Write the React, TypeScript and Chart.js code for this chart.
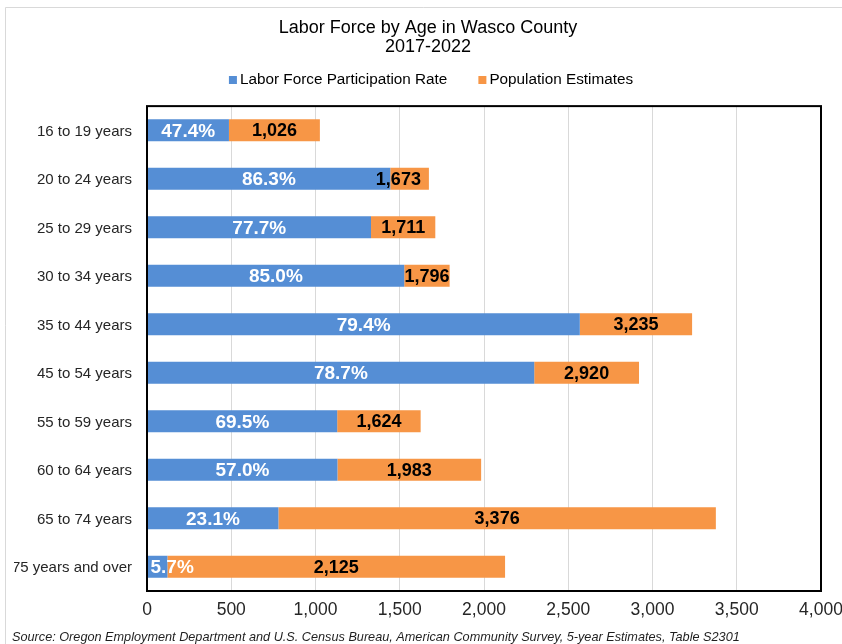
import { useEffect, useRef } from 'react';
import { Chart, registerables } from 'chart.js';

Chart.register(...registerables);

const categories = [
  '16 to 19 years',
  '20 to 24 years',
  '25 to 29 years',
  '30 to 34 years',
  '35 to 44 years',
  '45 to 54 years',
  '55 to 59 years',
  '60 to 64 years',
  '65 to 74 years',
  '75 years and over',
];
const participationRates = [47.4, 86.3, 77.7, 85.0, 79.4, 78.7, 69.5, 57.0, 23.1, 5.7];
const populationEstimates = [1026, 1673, 1711, 1796, 3235, 2920, 1624, 1983, 3376, 2125];

const xMin = 0;
const xMax = 4000;
const xStep = 500;

const titleLines = ['Labor Force by Age in Wasco County', '2017-2022'];
const seriesNames = ['Labor Force Participation Rate', 'Population Estimates'];
const sourceText =
  'Source: Oregon Employment Department and U.S. Census Bureau, American Community Survey, 5-year Estimates, Table S2301';

const BLUE = '#558ED5';
const ORANGE = '#F79646';
const FONT = '"Liberation Sans", Arial, Helvetica, sans-serif';

// labor force (blue part) and the rest of the population (orange part)
const laborForce = populationEstimates.map((p, i) => (p * participationRates[i]) / 100);
const remainder = populationEstimates.map((p, i) => p - laborForce[i]);

const decorPlugin = {
  id: 'decor',
  beforeDraw(chart: any) {
    const ctx = chart.ctx as CanvasRenderingContext2D;
    ctx.save();
    ctx.fillStyle = '#ffffff';
    ctx.fillRect(0, 0, chart.width, chart.height);
    ctx.strokeStyle = '#d9d9d9';
    ctx.lineWidth = 1;
    ctx.beginPath();
    ctx.moveTo(5.5, chart.height);
    ctx.lineTo(5.5, 7.5);
    ctx.lineTo(chart.width, 7.5);
    ctx.stroke();
    ctx.restore();
  },
  afterDatasetsDraw(chart: any) {
    const ctx = chart.ctx as CanvasRenderingContext2D;
    ctx.save();
    ctx.textAlign = 'center';
    ctx.textBaseline = 'middle';
    chart.data.datasets.forEach((_ds: any, di: number) => {
      const meta = chart.getDatasetMeta(di);
      meta.data.forEach((el: any, i: number) => {
        const { x, y, base } = el.getProps(['x', 'y', 'base'], true);
        const left = Math.min(x, base);
        const right = Math.max(x, base);
        const text =
          di === 0
            ? participationRates[i].toFixed(1) + '%'
            : populationEstimates[i].toLocaleString('en-US');
        ctx.font = di === 0 ? `bold 19px ${FONT}` : `bold 18px ${FONT}`;
        const w = ctx.measureText(text).width;
        let cx = (left + right) / 2;
        if (w > right - left) {
          cx = di === 0 ? left + 3 + w / 2 : right - 8 - w / 2;
        }
        ctx.fillStyle = di === 0 ? '#ffffff' : '#000000';
        ctx.fillText(text, cx, y + 1);
      });
    });
    ctx.restore();
  },
  afterDraw(chart: any) {
    const ctx = chart.ctx as CanvasRenderingContext2D;
    const { left, top, right, bottom } = chart.chartArea;
    ctx.save();
    // plot frame
    ctx.strokeStyle = '#000000';
    ctx.lineWidth = 2;
    ctx.strokeRect(left, top, right - left, bottom - top);

    // legend
    ctx.font = `15.3px ${FONT}`;
    ctx.textBaseline = 'middle';
    ctx.textAlign = 'left';
    const colors = [BLUE, ORANGE];
    const box = 8;
    const gap = 3;
    const itemGap = 31;
    const widths = seriesNames.map((s) => ctx.measureText(s).width);
    const total = widths.reduce((a, w) => a + box + gap + w, 0) + itemGap * (seriesNames.length - 1);
    let lx = 431 - total / 2;
    const ly = 80;
    seriesNames.forEach((name, i) => {
      ctx.fillStyle = colors[i];
      ctx.fillRect(lx, ly - box / 2, box, box);
      ctx.fillStyle = '#000000';
      ctx.fillText(name, lx + box + gap, ly);
      lx += box + gap + widths[i] + itemGap;
    });

    // source note
    ctx.font = `italic 12.7px ${FONT}`;
    ctx.textBaseline = 'alphabetic';
    ctx.fillStyle = '#1f1f1f';
    ctx.fillText(sourceText, 12, 641);
    ctx.restore();
  },
};

export default function App() {
  const canvasRef = useRef<HTMLCanvasElement>(null);

  useEffect(() => {
    if (!canvasRef.current) return;
    const chart = new Chart(canvasRef.current, {
      type: 'bar',
      data: {
        labels: categories,
        datasets: [
          {
            label: seriesNames[0],
            data: laborForce,
            backgroundColor: BLUE,
            borderWidth: 0,
            barPercentage: 0.454,
            categoryPercentage: 1,
          },
          {
            label: seriesNames[1],
            data: remainder,
            backgroundColor: ORANGE,
            borderWidth: 0,
            barPercentage: 0.454,
            categoryPercentage: 1,
          },
        ],
      },
      options: {
        indexAxis: 'y',
        animation: false,
        responsive: false,
        maintainAspectRatio: false,
        layout: { padding: { left: 14, right: 0, top: 0, bottom: 22 } },
        plugins: {
          legend: { display: false },
          tooltip: { enabled: false },
          title: {
            display: true,
            text: titleLines,
            color: '#000000',
            font: { family: FONT, size: 18, weight: 'normal', lineHeight: 1.045 },
            padding: { top: 19, bottom: 49.5 },
          },
        },
        scales: {
          x: {
            stacked: true,
            min: xMin,
            max: xMax,
            ticks: {
              stepSize: xStep,
              color: '#262626',
              padding: 9,
              font: { family: FONT, size: 17.5 },
              callback: (v: any) => Number(v).toLocaleString('en-US'),
            },
            grid: { color: '#d9d9d9', drawTicks: false, lineWidth: 1 },
            border: { display: false },
            afterFit: (s: any) => {
              s.height = 31;
              s.paddingRight = 21;
              s.paddingLeft = 0;
            },
          },
          y: {
            stacked: true,
            ticks: {
              color: '#262626',
              padding: 15,
              labelOffset: 1.5,
              font: { family: FONT, size: 15 },
            },
            grid: { display: false, drawTicks: false },
            border: { display: false },
            afterFit: (s: any) => {
              s.width = 133;
            },
          },
        },
      },
      plugins: [decorPlugin],
    });
    return () => chart.destroy();
  }, []);

  return (
    <div
      style={{
        position: 'absolute',
        left: 0,
        top: 0,
        width: 842,
        height: 644,
        overflow: 'hidden',
        background: '#ffffff',
      }}
    >
      <canvas ref={canvasRef} width={842} height={644} style={{ display: 'block', width: 842, height: 644 }} />
    </div>
  );
}
